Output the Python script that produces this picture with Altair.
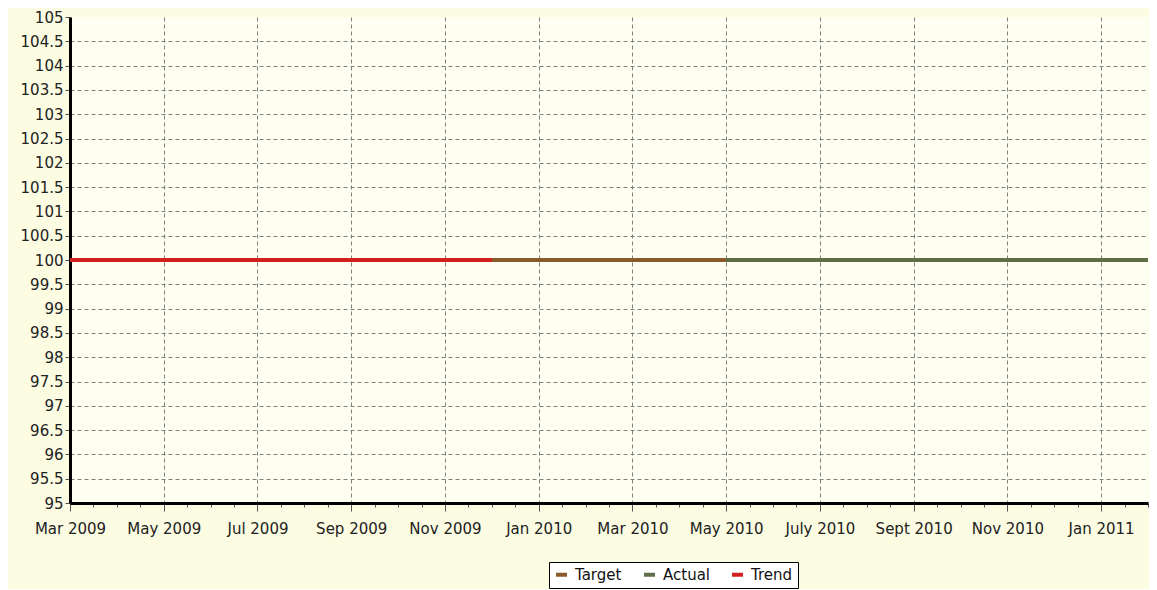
import altair as alt
import pandas as pd

# ---- data ----
tick_labels = ["Mar 2009", "May 2009", "Jul 2009", "Sep 2009", "Nov 2009", "Jan 2010",
               "Mar 2010", "May 2010", "July 2010", "Sept 2010", "Nov 2010", "Jan 2011"]
series_names = ["Target", "Actual", "Trend"]
series_colors = ["#8B5A2B", "#5E6E47", "#D41F1F"]
series_start = [0, 0, 0]          # month index (0 = Mar 2009)
series_end = [14, 23, 9]          # May 2010, Feb 2011, Dec 2009
series_value = [100, 100, 100]

rows = []
for name, s, e, v in zip(series_names, series_start, series_end, series_value):
    rows.append({"series": name, "month": s, "value": v})
    rows.append({"series": name, "month": e, "value": v})
df = pd.DataFrame(rows)

label_js = "[" + ",".join("'%s'" % t for t in tick_labels) + "]"
x_values = [i * 0.5 for i in range(0, 47)]
y_values = [95 + i * 0.5 for i in range(0, 21)]

color_scale = alt.Scale(domain=series_names, range=series_colors)

x_enc = alt.X(
    "month:Q",
    scale=alt.Scale(domain=[0, 23], nice=False, zero=False),
    axis=alt.Axis(
        values=x_values,
        labelExpr="datum.value % 2 == 0 ? " + label_js + "[datum.value / 2] : ''",
        labelOverlap=False,
        labelFlush=False,
        title=None,
        labelFont="DejaVu Sans",
        labelFontSize=15,
        labelColor="#222222",
        labelPadding=10,
        domainColor="#000000",
        domainWidth=3,
        tickColor="#555555",
        tickSize={"condition": {"test": "datum.value % 2 != 0", "value": 4}, "value": 8},
        grid=True,
        gridColor="#808080",
        gridDash=[4, 3],
        gridWidth=1,
        gridOpacity={"condition": {"test": "datum.value % 2 != 0 || datum.value == 0", "value": 0}, "value": 1},
    ),
)
y_enc = alt.Y(
    "value:Q",
    scale=alt.Scale(domain=[95, 105], nice=False, zero=False),
    axis=alt.Axis(
        values=y_values,
        format="~f",
        labelOverlap=False,
        title=None,
        labelFont="DejaVu Sans",
        labelFontSize=15,
        labelColor="#222222",
        labelPadding=2,
        domainColor="#000000",
        domainWidth=3,
        tickColor="#555555",
        tickSize=5,
        grid=True,
        gridColor="#808080",
        gridDash=[4, 3],
        gridWidth=1,
        gridOpacity={"condition": {"test": "datum.value == 105 || datum.value == 95", "value": 0}, "value": 1},
    ),
)

color_enc = alt.Color(
    "series:N",
    scale=color_scale,
    sort=series_names,
    legend=alt.Legend(
        title=None,
        orient="none",
        legendX=479,
        legendY=545,
        direction="horizontal",
        symbolType="stroke",
        symbolStrokeWidth=4,
        symbolSize=120,
        labelFont="DejaVu Sans",
        labelFontSize=15,
        labelColor="#111111",
        labelOffset=6,
        columnPadding=14,
        fillColor="#ffffff",
        strokeColor="#000000",
        padding=5,
    ),
)

layers = []
for name in ["Actual", "Target", "Trend"]:
    layers.append(
        alt.Chart(df[df["series"] == name])
        .mark_line(strokeWidth=4, strokeCap="butt")
        .encode(x=x_enc, y=y_enc, color=color_enc)
    )

chart = (
    alt.layer(*layers)
    .properties(
        width=1078,
        height=486,
        autosize=alt.AutoSizeParams(type="none"),
        padding={"left": 62, "top": 9, "right": 1, "bottom": 86},
        background="#FCFCE2",
    )
    .configure_view(stroke=None, fill="#FEFEF1")
)

chart.save("out.html", embed_options={"renderer": "svg", "actions": False})
